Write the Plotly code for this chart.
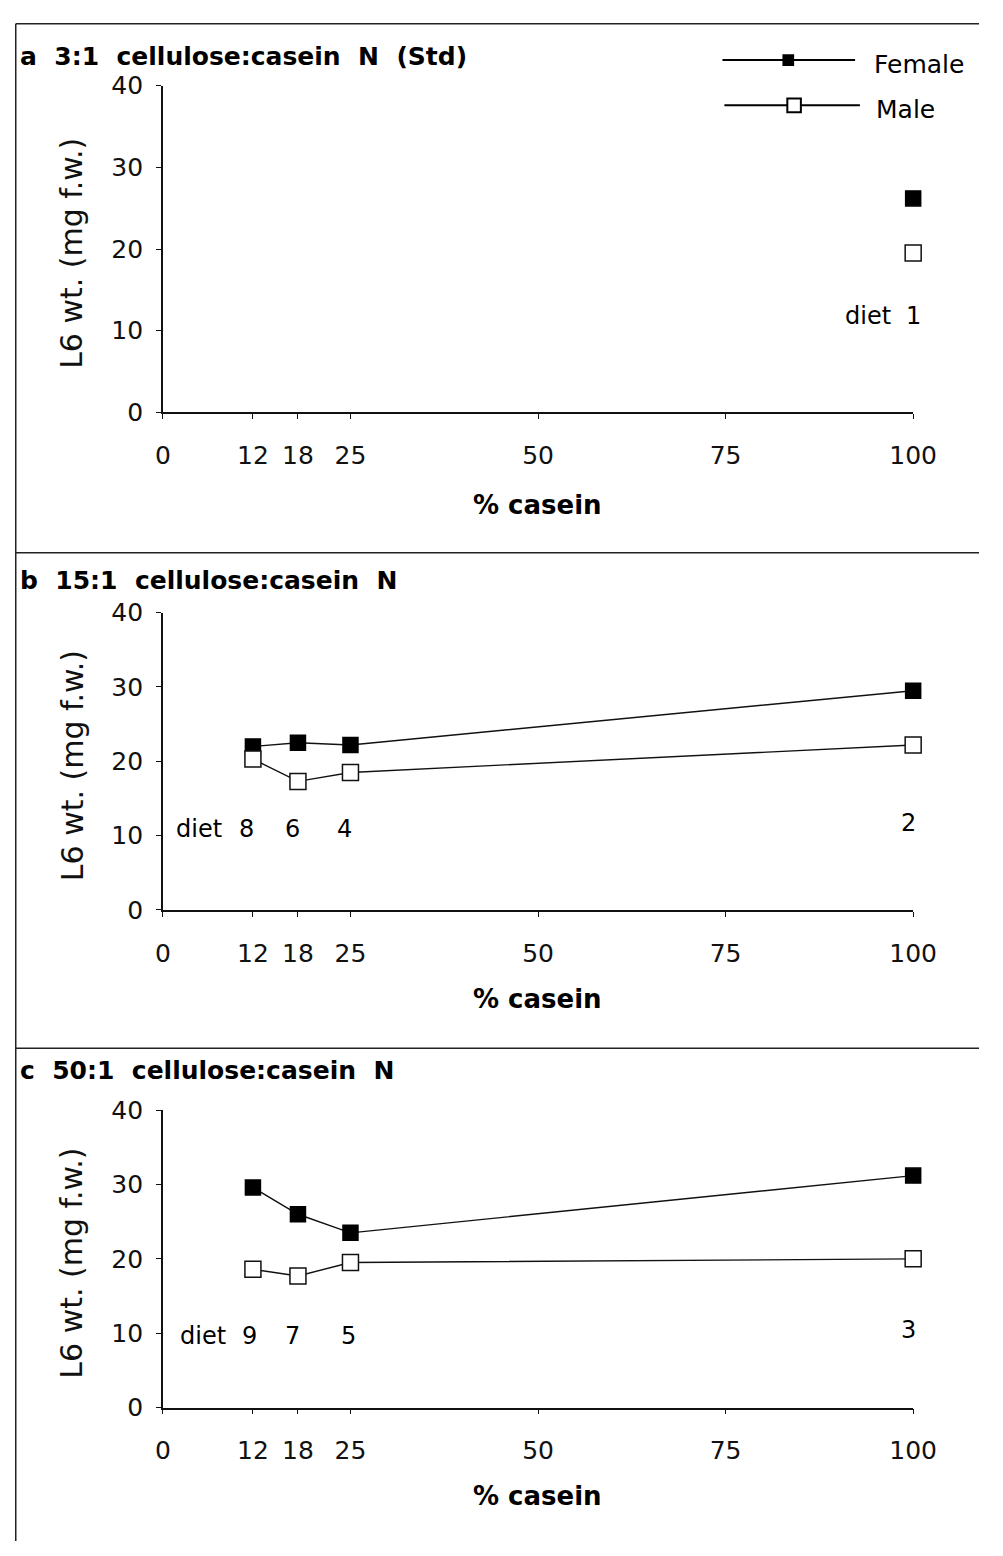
import plotly.graph_objects as go

# ---- data -------------------------------------------------------------
casein_pct = [12, 18, 25, 100]
x_tick_vals = [0, 12, 18, 25, 50, 75, 100]
x_tick_text = ["0", "12", "18", "25", "50", "75", "100"]
y_tick_vals = [0, 10, 20, 30, 40]

SP = "\u00a0 "  # wide word gap used in the panel headings
panel_titles = [
    SP.join(["a", "3:1", "cellulose:casein", "N", "(Std)"]),
    SP.join(["b", "15:1", "cellulose:casein", "N"]),
    SP.join(["c", "50:1", "cellulose:casein", "N"]),
]

# panel a: standard diet only (100 % casein)
female_a_x = [100]
female_a = [26.2]
male_a = [19.5]
diets_a = ["1"]

# panel b: 15:1
female_b = [22.0, 22.5, 22.2, 29.5]
male_b = [20.3, 17.3, 18.5, 22.2]
diets_b = ["8", "6", "4", "2"]

# panel c: 50:1
female_c = [29.6, 26.0, 23.5, 31.2]
male_c = [18.6, 17.7, 19.5, 20.0]
diets_c = ["9", "7", "5", "3"]

W, H = 1003, 1556
FONT = "DejaVu Sans, Verdana, sans-serif"


def px_x(p):
    return p / W


def px_y(p):
    return 1 - p / H


# pixel layout of each panel: (top of plot = 40, bottom = 0, title y, x-title y)
panels = [
    dict(top=73, bottom=406, title_y=43, xtitle_y=500,
         x_f=female_a_x, f=female_a, m=male_a, diets=diets_a),
    dict(top=610, bottom=913, title_y=577, xtitle_y=1004,
         x_f=casein_pct, f=female_b, m=male_b, diets=diets_b),
    dict(top=1117, bottom=1420, title_y=1077, xtitle_y=1510,
         x_f=casein_pct, f=female_c, m=male_c, diets=diets_c),
]

fig = go.Figure()
annotations = []
shapes = []
x_left, x_right = 160, 935

for i, p in enumerate(panels):
    n = "" if i == 0 else str(i + 1)
    xa, ya = "x" + n, "y" + n
    axis_common = dict(
        showgrid=False, zeroline=False, showline=True, linecolor="#111",
        linewidth=1.5, ticks="outside", ticklen=5, tickwidth=1.2,
        tickcolor="#111", tickfont=dict(family=FONT, size=25, color="#111"),
    )
    fig.update_layout(**{
        "xaxis" + n: dict(axis_common, domain=[px_x(x_left), px_x(x_right)],
                          range=[0, 100], anchor=ya, tickmode="array",
                          tickvals=x_tick_vals, ticktext=x_tick_text,
                          ticklabelstandoff=15, fixedrange=True),
        "yaxis" + n: dict(axis_common, domain=[px_y(p["bottom"]), px_y(p["top"])],
                          range=[0, 40], anchor=xa, tickmode="array",
                          tickvals=y_tick_vals, ticklabelstandoff=8,
                          fixedrange=True),
    })

    fig.add_trace(go.Scatter(
        x=p["x_f"], y=p["f"], xaxis=xa, yaxis=ya, mode="lines+markers",
        name="Female", showlegend=False, cliponaxis=False,
        line=dict(color="#111", width=1.4),
        marker=dict(symbol="square", size=15, color="#000",
                    line=dict(color="#000", width=1.5)),
    ))
    fig.add_trace(go.Scatter(
        x=p["x_f"], y=p["m"], xaxis=xa, yaxis=ya, mode="lines+markers",
        name="Male", showlegend=False, cliponaxis=False,
        line=dict(color="#111", width=1.4),
        marker=dict(symbol="square", size=16, color="#fff",
                    line=dict(color="#111", width=1.5)),
    ))

    # panel heading
    annotations.append(dict(
        text="<b>" + panel_titles[i] + "</b>", xref="paper", yref="paper",
        x=px_x(10), y=px_y(p["title_y"]), xanchor="left", yanchor="middle",
        showarrow=False, font=dict(family=FONT, size=25, color="#000"),
    ))
    # axis titles
    annotations.append(dict(
        text="<b>% casein</b>", xref="paper", yref="paper",
        x=px_x(547), y=px_y(p["xtitle_y"]), xanchor="center",
        yanchor="middle", showarrow=False,
        font=dict(family=FONT, size=26, color="#000"),
    ))
    annotations.append(dict(
        text="L6 wt. (mg f.w.)", xref="paper", yref="paper",
        x=px_x(66), y=px_y((p["top"] + p["bottom"]) / 2 + 4),
        xanchor="center", yanchor="middle", textangle=-90, showarrow=False,
        font=dict(family=FONT, size=30, color="#111"),
    ))

# diet labels
diet_rows = [
    (0, 888, 308, [(100, 0)]),
    (1, 197, 830, [(12, -6), (18, -5), (25, -6), (100, -5)]),
    (2, 201, 1347, [(12, -3), (18, -5), (25, -2), (100, -5)]),
]
for i, diet_x, diet_y, pos in diet_rows:
    n = "" if i == 0 else str(i + 1)
    annotations.append(dict(
        text="diet", xref="paper", yref="paper", x=px_x(diet_x),
        y=px_y(diet_y), xanchor="center", yanchor="middle", showarrow=False,
        font=dict(family=FONT, size=24, color="#000"),
    ))
    labels = panels[i]["diets"]
    for (xv, shift), lab in zip(pos, labels):
        yy = diet_y - (6 if (xv == 100 and i > 0) else 0)
        annotations.append(dict(
            text=lab, xref="x" + n, yref="paper", x=xv, xshift=shift,
            y=px_y(yy), xanchor="center", yanchor="middle", showarrow=False,
            font=dict(family=FONT, size=24, color="#000"),
        ))

# legend (top right of panel a)
legend_items = [
    ("Female", 47, 738, 875, 806, 5, "#000", 892),
    ("Male", 93, 740, 880, 812, 7, "#fff", 895),
]
for label, ly, x0, x1, mx, half, fill, tx in legend_items:
    shapes.append(dict(type="line", xref="paper", yref="paper",
                       x0=px_x(x0), x1=px_x(x1), y0=px_y(ly), y1=px_y(ly),
                       line=dict(color="#000", width=2)))
    shapes.append(dict(type="rect", xref="paper", yref="paper",
                       x0=px_x(mx - half), x1=px_x(mx + half),
                       y0=px_y(ly - half), y1=px_y(ly + half),
                       fillcolor=fill, line=dict(color="#000", width=2)))
    annotations.append(dict(
        text=label, xref="paper", yref="paper", x=px_x(tx), y=px_y(ly + 4),
        xanchor="left", yanchor="middle", showarrow=False,
        font=dict(family=FONT, size=25, color="#000"),
    ))

# panel frames
frame = dict(color="#222", width=1.5)
shapes += [
    dict(type="line", xref="paper", yref="paper", x0=px_x(8), x1=px_x(8),
         y0=px_y(10), y1=0, line=frame),
    dict(type="line", xref="paper", yref="paper", x0=px_x(8), x1=1,
         y0=px_y(10), y1=px_y(10), line=frame),
    dict(type="line", xref="paper", yref="paper", x0=px_x(8), x1=1,
         y0=px_y(549), y1=px_y(549), line=frame),
    dict(type="line", xref="paper", yref="paper", x0=px_x(8), x1=1,
         y0=px_y(1054), y1=px_y(1054), line=frame),
]

fig.update_layout(
    width=W, height=H, margin=dict(l=0, r=0, t=0, b=0),
    paper_bgcolor="#fff", plot_bgcolor="#fff", showlegend=False,
    annotations=annotations, shapes=shapes,
)

fig.write_html("out.html")
